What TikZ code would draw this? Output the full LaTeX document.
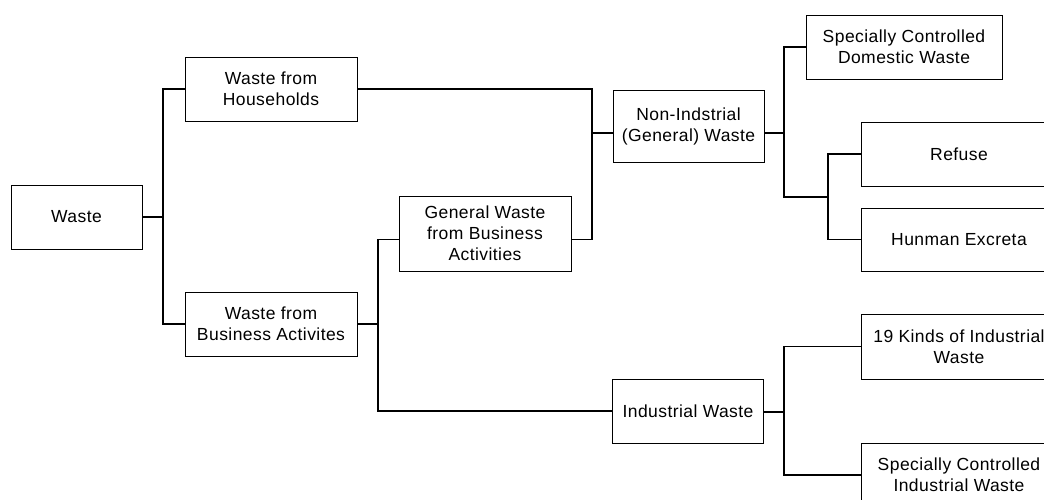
\documentclass[tikz,border=0pt]{standalone}
\usepackage{fontspec}
\setmainfont{Liberation Sans}[LetterSpace=2.5]
\usetikzlibrary{calc}
\begin{document}
\begin{tikzpicture}[x=1pt,y=-1pt,
  box/.style={draw=black, line width=0.9pt, rectangle, align=center, inner sep=0pt,
    font=\fontsize{17.5}{21}\selectfont},
  conn/.style={draw=black, line width=1.8pt, line cap=rect, line join=miter}]
\clip (0,0) rectangle (1044,500);
\fill[white] (0,0) rectangle (1044,500);
% nodes
\node[box, minimum width=131pt, minimum height=64pt] (waste) at (76.5,217) {Waste};
\node[box, minimum width=172pt, minimum height=64pt] (house) at (271,89) {Waste from\\Households};
\node[box, minimum width=172pt, minimum height=64pt] (bus) at (271,324) {Waste from\\Business Activites};
\node[box, minimum width=172pt, minimum height=75pt] (genbus) at (485,233.5) {General Waste\\from Business\\Activities};
\node[box, minimum width=151pt, minimum height=72pt] (nonind) at (688.5,126) {Non-Indstrial\\(General) Waste};
\node[box, minimum width=151pt, minimum height=64pt] (ind) at (688,411) {Industrial Waste};
\node[box, minimum width=196pt, minimum height=64pt] (dom) at (904,47) {Specially Controlled\\Domestic Waste};
\node[box, minimum width=196pt, minimum height=64pt] (refuse) at (959,154) {Refuse};
\node[box, minimum width=196pt, minimum height=63pt] (excreta) at (959,239.5) {Hunman Excreta};
\node[box, minimum width=196pt, minimum height=65pt] (kinds) at (959,346.5) {19 Kinds of Industrial\\Waste};
\node[box, minimum width=196pt, minimum height=64pt] (spind) at (959,475) {Specially Controlled\\Industrial Waste};
% junctions
\coordinate (j1) at (163,217);
\coordinate (j2) at (592,133);
\coordinate (j3) at (378,324);
\coordinate (j4) at (784,133);
\coordinate (j5) at (828,197);
\coordinate (j6) at (784,412);
% connectors
\draw[conn] (waste.east) -- (j1);
\draw[conn] (house.west) -| (j1) |- (bus.west);
\draw[conn] (house.east) -| (j2) |- ($(genbus.east)+(0,6)$);
\draw[conn] (j2) -- (nonind.west |- j2);
\draw[conn] (bus.east) -- (j3);
\draw[conn] ($(genbus.west)+(0,6)$) -| (j3) |- (ind.west);
\draw[conn] (nonind.east |- j4) -- (j4);
\draw[conn] (dom.west) -| (j4) |- (j5);
\draw[conn] (refuse.west) -| (j5) |- (excreta.west);
\draw[conn] (ind.east |- j6) -- (j6);
\draw[conn] (kinds.west) -| (j6) |- (spind.west);
\end{tikzpicture}
\end{document}
